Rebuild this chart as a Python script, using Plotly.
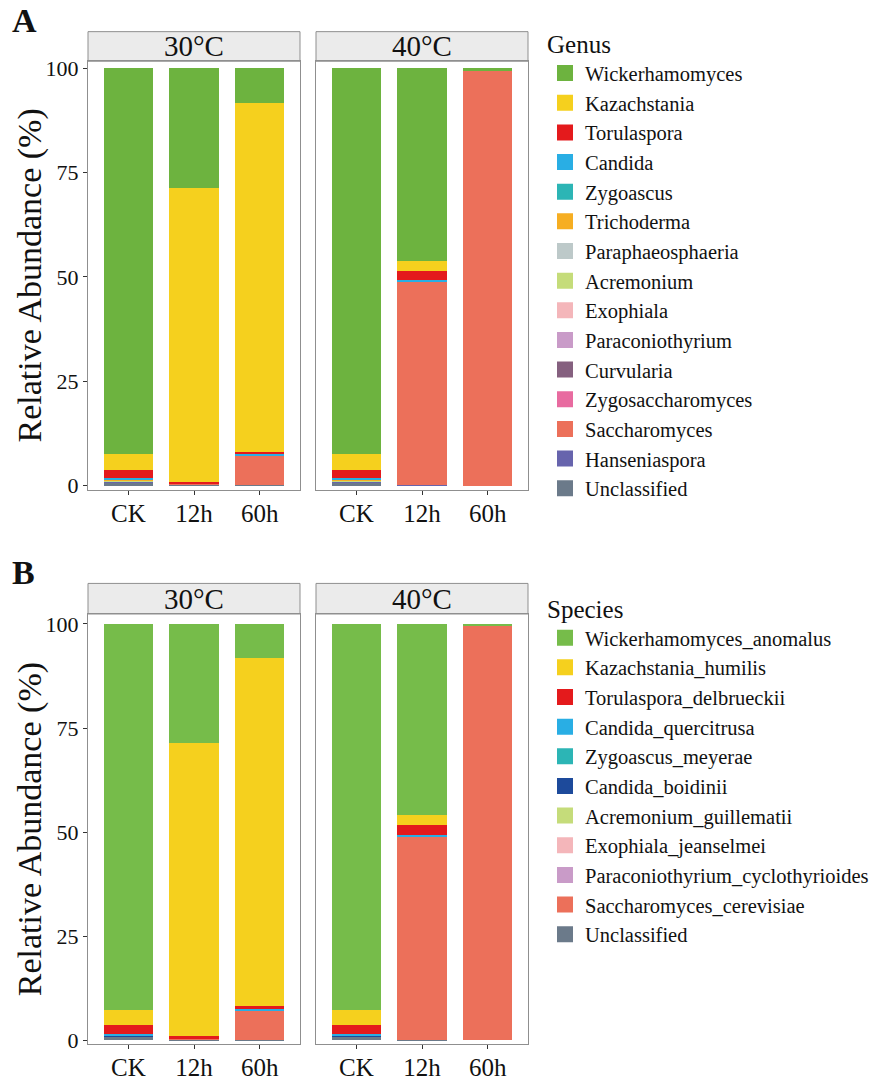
import plotly.graph_objects as go

W, H = 896, 1081
samples = ["CK", "12h", "60h"]
temps = ["30°C", "40°C"]

genus = ["Wickerhamomyces", "Kazachstania", "Torulaspora", "Candida", "Zygoascus",
         "Trichoderma", "Paraphaeosphaeria", "Acremonium", "Exophiala", "Paraconiothyrium",
         "Curvularia", "Zygosaccharomyces", "Saccharomyces", "Hanseniaspora", "Unclassified"]
genus_colors = ["#6DB33F", "#F5D01E", "#E41A1C", "#29AEE4", "#2CB5B5",
                "#F6AE22", "#BDC9C9", "#C5DC7A", "#F4B6BA", "#C99BC8",
                "#85607F", "#E86BA0", "#EC705A", "#6764AD", "#6B7A8A"]
# values [CK, 12h, 60h]
genus_30 = {
    "Wickerhamomyces": [92.4, 28.7, 8.4],
    "Kazachstania": [3.8, 70.4, 83.5],
    "Torulaspora": [2.0, 0.5, 0.6],
    "Candida": [0.35, 0.05, 0.3],
    "Zygoascus": [0.15, 0.0, 0.0],
    "Trichoderma": [0.1, 0.0, 0.0],
    "Paraphaeosphaeria": [0.1, 0.0, 0.0],
    "Acremonium": [0.05, 0.0, 0.0],
    "Exophiala": [0.05, 0.0, 0.0],
    "Paraconiothyrium": [0.05, 0.0, 0.0],
    "Curvularia": [0.05, 0.0, 0.0],
    "Zygosaccharomyces": [0.02, 0.0, 0.0],
    "Saccharomyces": [0.03, 0.05, 7.0],
    "Hanseniaspora": [0.05, 0.15, 0.0],
    "Unclassified": [0.8, 0.15, 0.2],
}
genus_40 = {
    "Wickerhamomyces": [92.4, 46.1, 0.6],
    "Kazachstania": [3.8, 2.4, 0.0],
    "Torulaspora": [2.0, 2.3, 0.0],
    "Candida": [0.35, 0.3, 0.0],
    "Zygoascus": [0.15, 0.0, 0.0],
    "Trichoderma": [0.1, 0.0, 0.0],
    "Paraphaeosphaeria": [0.1, 0.0, 0.0],
    "Acremonium": [0.05, 0.0, 0.0],
    "Exophiala": [0.05, 0.0, 0.0],
    "Paraconiothyrium": [0.05, 0.0, 0.0],
    "Curvularia": [0.05, 0.0, 0.0],
    "Zygosaccharomyces": [0.02, 0.0, 0.0],
    "Saccharomyces": [0.03, 48.8, 99.4],
    "Hanseniaspora": [0.05, 0.1, 0.0],
    "Unclassified": [0.8, 0.0, 0.0],
}

species = ["Wickerhamomyces_anomalus", "Kazachstania_humilis", "Torulaspora_delbrueckii",
           "Candida_quercitrusa", "Zygoascus_meyerae", "Candida_boidinii",
           "Acremonium_guillematii", "Exophiala_jeanselmei",
           "Paraconiothyrium_cyclothyrioides", "Saccharomyces_cerevisiae", "Unclassified"]
species_colors = ["#76BC4A", "#F5D01E", "#E41A1C", "#29AEE4", "#2CB5B5", "#1D4A9B",
                  "#C5DC7A", "#F4B6BA", "#C99BC8", "#EC705A", "#6B7A8A"]
species_30 = {
    "Wickerhamomyces_anomalus": [92.7, 28.7, 8.3],
    "Kazachstania_humilis": [3.7, 70.3, 83.4],
    "Torulaspora_delbrueckii": [2.0, 0.55, 0.8],
    "Candida_quercitrusa": [0.4, 0.1, 0.3],
    "Zygoascus_meyerae": [0.1, 0.0, 0.0],
    "Candida_boidinii": [0.05, 0.0, 0.0],
    "Acremonium_guillematii": [0.05, 0.0, 0.0],
    "Exophiala_jeanselmei": [0.05, 0.0, 0.0],
    "Paraconiothyrium_cyclothyrioides": [0.05, 0.0, 0.0],
    "Saccharomyces_cerevisiae": [0.05, 0.05, 7.0],
    "Unclassified": [0.85, 0.3, 0.2],
}
species_40 = {
    "Wickerhamomyces_anomalus": [92.7, 45.9, 0.5],
    "Kazachstania_humilis": [3.7, 2.5, 0.0],
    "Torulaspora_delbrueckii": [2.0, 2.3, 0.0],
    "Candida_quercitrusa": [0.4, 0.3, 0.0],
    "Zygoascus_meyerae": [0.1, 0.0, 0.0],
    "Candida_boidinii": [0.05, 0.0, 0.0],
    "Acremonium_guillematii": [0.05, 0.0, 0.0],
    "Exophiala_jeanselmei": [0.05, 0.0, 0.0],
    "Paraconiothyrium_cyclothyrioides": [0.05, 0.0, 0.0],
    "Saccharomyces_cerevisiae": [0.05, 48.8, 99.5],
    "Unclassified": [0.85, 0.2, 0.0],
}
y_ticks = [0, 25, 50, 75, 100]

FONT = "Liberation Serif"
BORDER = "#8F8F8F"
TXT = "#111111"

def px_x(p):
    return p / W

def px_y(p):
    return 1 - p / H

fig = go.Figure()

facet_x = [(88, 300), (316, 528)]
panels = [
    dict(top=57, bottom=491, strip_top=27, yr=[-0.95, 101.65], leg="legend", title="Genus",
         names=genus, colors=genus_colors, data=[genus_30, genus_40], label="A", label_y=16,
         leg_y=16),
    dict(top=617, bottom=1053, strip_top=586, yr=[-0.95, 102.37], leg="legend2", title="Species",
         names=species, colors=species_colors, data=[species_30, species_40], label="B",
         label_y=575, leg_y=588),
]

layout_axes = {}
shapes = []
annotations = []
ax_idx = 0
for pi, P in enumerate(panels):
    for fi in range(2):
        ax_idx += 1
        xa = "x" if ax_idx == 1 else f"x{ax_idx}"
        ya = "y" if ax_idx == 1 else f"y{ax_idx}"
        xkey = "xaxis" if ax_idx == 1 else f"xaxis{ax_idx}"
        ykey = "yaxis" if ax_idx == 1 else f"yaxis{ax_idx}"
        data = P["data"][fi]
        for name, col in reversed(list(zip(P["names"], P["colors"]))):
            fig.add_trace(go.Bar(
                x=samples, y=data[name], name=name, marker=dict(color=col, line=dict(width=0)),
                width=0.75, xaxis=xa, yaxis=ya, showlegend=False,
                hovertemplate=f"{temps[fi]} %{{x}}<br>{name}: %{{y}}%<extra></extra>",
            ))
        x0, x1 = facet_x[fi]
        layout_axes[xkey] = dict(
            domain=[px_x(x0), px_x(x1)], anchor=ya, type="category",
            categoryorder="array", categoryarray=samples, range=[-0.614, 2.614],
            showline=True, linecolor=BORDER, linewidth=1, mirror=True,
            ticks="outside", ticklen=4, tickcolor="#333333", ticklabelstandoff=-3,
            tickfont=dict(family=FONT, size=25, color=TXT),
            showgrid=False, zeroline=False, fixedrange=True,
        )
        layout_axes[ykey] = dict(
            domain=[px_y(P["bottom"]), px_y(P["top"])], anchor=xa, range=P["yr"],
            tickvals=y_ticks, ticktext=[str(v) for v in y_ticks],
            showticklabels=(fi == 0),
            showline=True, linecolor=BORDER, linewidth=1, mirror=True,
            ticks="outside" if fi == 0 else "", ticklen=4, tickcolor="#333333",
            tickfont=dict(family=FONT, size=22, color=TXT),
            showgrid=False, zeroline=False, fixedrange=True,
        )
        shapes.append(dict(type="rect", xref="paper", yref="paper",
                           x0=px_x(x0), x1=px_x(x1), y0=px_y(P["top"]), y1=px_y(P["strip_top"]),
                           fillcolor="#EBEBEB", line=dict(color=BORDER, width=1), layer="below"))
        annotations.append(dict(xref="paper", yref="paper", x=px_x((x0 + x1) / 2),
                                y=px_y((P["top"] + P["strip_top"]) / 2), text=temps[fi],
                                showarrow=False, xanchor="center", yanchor="middle",
                                font=dict(family=FONT, size=29, color=TXT)))
    # y-axis title
    annotations.append(dict(xref="paper", yref="paper", x=px_x(30),
                            y=px_y((P["top"] + P["bottom"]) / 2), text="Relative Abundance (%)",
                            textangle=-90, showarrow=False, xanchor="center", yanchor="middle",
                            font=dict(family=FONT, size=34, color=TXT)))
    for name, col in zip(P["names"], P["colors"]):
        fig.add_trace(go.Scatter(
            x=[None], y=[None], mode="markers", name=name, legend=P["leg"],
            legendgroup=f"{P['leg']}_{name}",
            marker=dict(symbol="square", size=16, color=col, line=dict(width=0)),
            xaxis="x" if pi == 0 else "x3", yaxis="y" if pi == 0 else "y3",
            hoverinfo="skip",
        ))
    annotations.append(dict(xref="paper", yref="paper", x=px_x(10), y=px_y(P["label_y"]),
                            text=f"<b>{P['label']}</b>", showarrow=False, xanchor="left",
                            yanchor="middle", font=dict(family=FONT, size=34, color=TXT)))

legend_common = dict(
    x=px_x(545), xanchor="left", yanchor="top",
    font=dict(family=FONT, size=20.5, color=TXT),
    bgcolor="rgba(0,0,0,0)", tracegroupgap=0, itemclick=False, itemdoubleclick=False,
)

fig.update_layout(
    width=W, height=H,
    margin=dict(l=0, r=0, t=0, b=0),
    paper_bgcolor="white", plot_bgcolor="white",
    barmode="stack", bargap=0.25,
    shapes=shapes, annotations=annotations,
    legend=dict(y=px_y(panels[0]["leg_y"]),
                title=dict(text="Genus", font=dict(family=FONT, size=25, color=TXT)),
                **legend_common),
    legend2=dict(y=px_y(panels[1]["leg_y"]),
                 title=dict(text="Species", font=dict(family=FONT, size=25, color=TXT)),
                 **legend_common),
    **layout_axes,
)

fig.write_html("out.html", config={"displayModeBar": False},
               post_script="document.body.style.margin='0px';")
